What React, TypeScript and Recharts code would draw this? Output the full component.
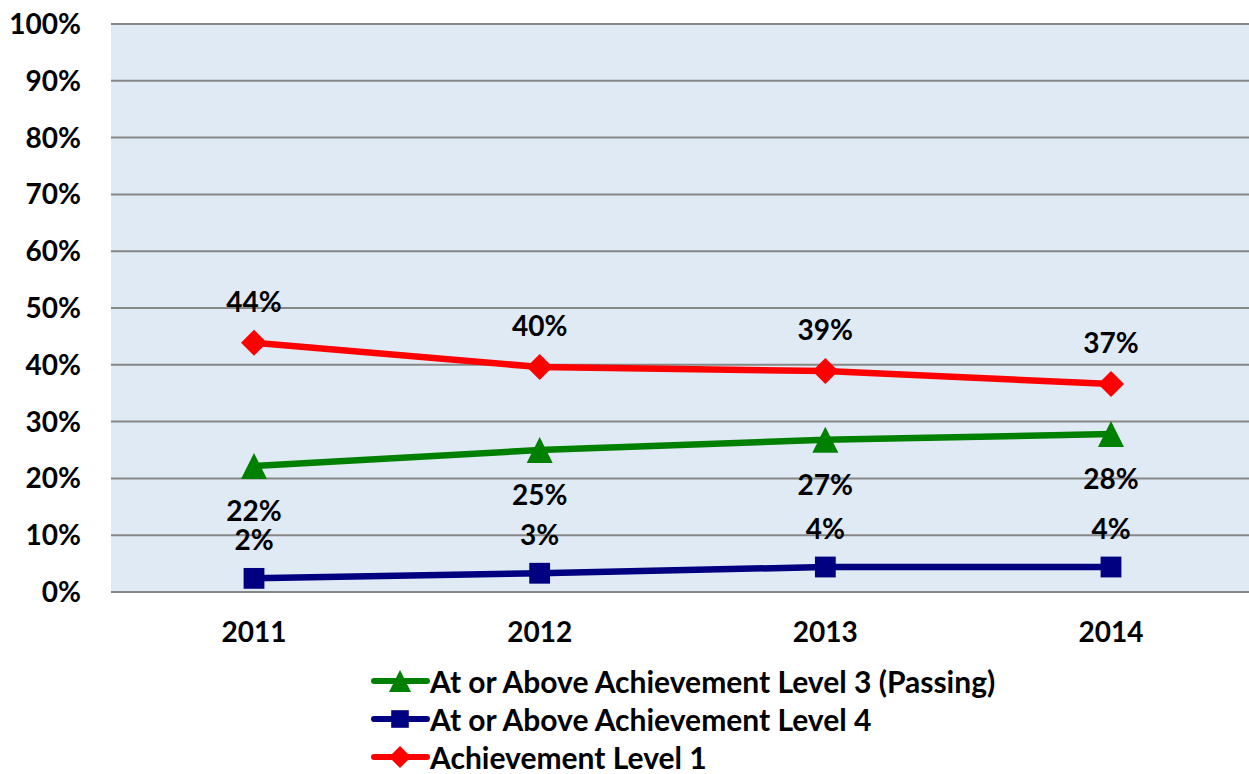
import React from 'react';
import { LineChart, Line, XAxis, YAxis, CartesianGrid, Legend, LabelList } from 'recharts';

const YEARS = ['2011', '2012', '2013', '2014'];
const LEVEL3_PLUS = [22.2, 25.0, 26.8, 27.8];
const LEVEL4_PLUS = [2.4, 3.3, 4.4, 4.4];
const LEVEL1 = [43.9, 39.6, 38.9, 36.6];
const Y_TICKS = [0, 10, 20, 30, 40, 50, 60, 70, 80, 90, 100];

const data = YEARS.map((year, i) => ({
  year,
  level3: LEVEL3_PLUS[i],
  level4: LEVEL4_PLUS[i],
  level1: LEVEL1[i],
}));

const FONT = 'Lato, "Open Sans", sans-serif';
const GREEN = '#008000';
const BLUE = '#000080';
const RED = '#FF0000';

type Shape = 'triangle' | 'square' | 'diamond';

const marker = (shape: Shape, cx: number, cy: number, size: number, color: string, key?: string) => {
  const h = size / 2;
  if (shape === 'triangle') {
    return <polygon key={key} points={`${cx},${cy - h} ${cx + h},${cy + h} ${cx - h},${cy + h}`} fill={color} />;
  }
  if (shape === 'square') {
    const s = size * 0.4;
    return <rect key={key} x={cx - s} y={cy - s} width={s * 2} height={s * 2} fill={color} />;
  }
  return <polygon key={key} points={`${cx},${cy - h} ${cx + h},${cy} ${cx},${cy + h} ${cx - h},${cy}`} fill={color} />;
};

const makeDot = (shape: Shape, color: string) => (props: any) => {
  const { cx, cy, index } = props;
  return marker(shape, cx, cy, 26, color, `dot-${shape}-${index}`);
};

const makeLabel = (dy: number) => (props: any) => {
  const { x, y, value } = props;
  return (
    <text
      x={x}
      y={y + dy}
      textAnchor="middle"
      dominantBaseline="central"
      fontFamily={FONT}
      fontWeight="bold"
      fontSize={28}
      fill="#000"
    >
      {`${Math.round(value)}%`}
    </text>
  );
};

const LEGEND_ITEMS: { name: string; color: string; shape: Shape }[] = [
  { name: 'At or Above Achievement Level 3 (Passing)', color: GREEN, shape: 'triangle' },
  { name: 'At or Above Achievement Level 4', color: BLUE, shape: 'square' },
  { name: 'Achievement Level 1', color: RED, shape: 'diamond' },
];

const renderLegend = () => (
  <div style={{ fontFamily: FONT, fontWeight: 'bold', fontSize: 30 }}>
    {LEGEND_ITEMS.map((item) => (
      <div key={item.name} style={{ display: 'flex', alignItems: 'center', height: 38 }}>
        <svg width={59} height={30} style={{ flex: 'none' }}>
          <line x1={3} y1={15} x2={56} y2={15} stroke={item.color} strokeWidth={6} strokeLinecap="round" />
          {marker(item.shape, 29, 15, 22, item.color)}
        </svg>
        <span style={{ whiteSpace: 'nowrap', lineHeight: '38px' }}>{item.name}</span>
      </div>
    ))}
  </div>
);

export default function App() {
  return (
    <div style={{ position: 'fixed', left: 0, top: 0, width: 1249, height: 774, overflow: 'hidden', background: '#fff' }}>
      <LineChart
        width={1254}
        height={774}
        data={data}
        margin={{ top: 24, right: 0, bottom: 122, left: 0 }}
      >
        <CartesianGrid horizontal vertical={false} stroke="#878787" strokeWidth={2} fill="#E0EAF4" />
        <XAxis
          dataKey="year"
          axisLine={false}
          tickLine={false}
          height={60}
          tickMargin={24}
          padding={{ left: 143, right: 143 }}
          tick={{ fontFamily: FONT, fontWeight: 'bold', fontSize: 28, fill: '#000' }}
        />
        <YAxis
          domain={[0, 100]}
          ticks={Y_TICKS}
          interval={0}
          width={111}
          axisLine={false}
          tickLine={false}
          tickMargin={24}
          tickFormatter={(v: number) => `${v}%`}
          tick={{ fontFamily: FONT, fontWeight: 'bold', fontSize: 28, fill: '#000' }}
        />
        <Legend
          layout="vertical"
          align="center"
          verticalAlign="middle"
          content={renderLegend}
          wrapperStyle={{ left: 371, top: 662, width: 800, height: 112 }}
        />
        <Line
          dataKey="level3"
          name="At or Above Achievement Level 3 (Passing)"
          stroke={GREEN}
          strokeWidth={6.5}
          dot={makeDot('triangle', GREEN)}
          activeDot={false}
          isAnimationActive={false}
        >
          <LabelList dataKey="level3" content={makeLabel(44)} />
        </Line>
        <Line
          dataKey="level4"
          name="At or Above Achievement Level 4"
          stroke={BLUE}
          strokeWidth={6.5}
          dot={makeDot('square', BLUE)}
          activeDot={false}
          isAnimationActive={false}
        >
          <LabelList dataKey="level4" content={makeLabel(-39)} />
        </Line>
        <Line
          dataKey="level1"
          name="Achievement Level 1"
          stroke={RED}
          strokeWidth={6.5}
          dot={makeDot('diamond', RED)}
          activeDot={false}
          isAnimationActive={false}
        >
          <LabelList dataKey="level1" content={makeLabel(-42)} />
        </Line>
      </LineChart>
    </div>
  );
}
